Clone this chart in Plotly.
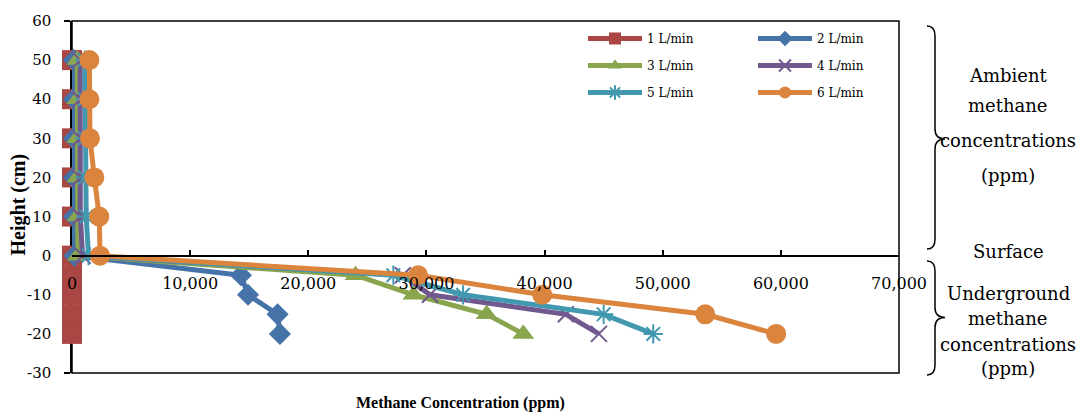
import plotly.graph_objects as go

heights = [50, 40, 30, 20, 10, 0, -5, -10, -15, -20]
series_names = ["1 L/min", "2 L/min", "3 L/min", "4 L/min", "5 L/min", "6 L/min"]
flow_1 = [0, 0, 0, 0, 0, 0, 0, 0, 0, 0]
flow_2 = [150, 150, 150, 150, 150, 200, 14300, 14900, 17400, 17600]
flow_3 = [450, 450, 450, 450, 450, 500, 24000, 28900, 35100, 38200]
flow_4 = [700, 700, 700, 700, 700, 900, 28000, 30300, 41800, 44600]
flow_5 = [1100, 1100, 1100, 1100, 1200, 1400, 27200, 33100, 45000, 49200]
flow_6 = [1470, 1470, 1520, 1890, 2310, 2370, 29300, 39800, 53600, 59600]
y_ticks = [60, 50, 40, 30, 20, 10, 0, -10, -20, -30]
y_tick_labels = ["60", "50", "40", "30", "20", "10", "0", "-10", "-20", "-30"]
x_ticks = [0, 10000, 20000, 30000, 40000, 50000, 60000, 70000]
x_tick_labels = ["0", "10,000", "20,000", "30,000", "40,000", "50,000", "60,000", "70,000"]
ambient_lines = ["Ambient", "methane", "concentrations", "(ppm)"]
under_lines = ["Underground", "methane", "concentrations", "(ppm)"]

W, H = 1080, 414
L, R, T, B = 72, 899, 18, 373

def px_x(px):
    return (px - L) / (R - L)

def px_y(py):
    return (B - py) / (B - T)

styles = [
    dict(color="#AA4643", symbol="square", size=20, legend="legend"),
    dict(color="#4572A7", symbol="diamond", size=17, legend="legend2"),
    dict(color="#89A54E", symbol="triangle-up", size=19, legend="legend"),
    dict(color="#71588F", symbol="x-thin-open", size=16, legend="legend2"),
    dict(color="#4198AF", symbol="asterisk-open", size=16, legend="legend"),
    dict(color="#DB843D", symbol="circle", size=20, legend="legend2"),
]
values = [flow_1, flow_2, flow_3, flow_4, flow_5, flow_6]

fig = go.Figure()
for i, (name, vals, st) in enumerate(zip(series_names, values, styles)):
    open_sym = st["symbol"].endswith("open")
    fig.add_trace(go.Scatter(
        x=vals, y=heights, name=name, mode="lines+markers",
        line=dict(color=st["color"], width=5),
        marker=dict(symbol=st["symbol"], size=st["size"], color=st["color"],
                    line=dict(color=st["color"], width=2 if open_sym else 0)),
        legend=st["legend"], legendgroup=name, cliponaxis=False,
    ))

legend_common = dict(xanchor="left", yanchor="top",
                     font=dict(family="DejaVu Serif", size=12, color="black"),
                     bgcolor="rgba(0,0,0,0)", tracegroupgap=8, itemsizing="constant",
                     itemwidth=54)
fig.update_layout(
    width=W, height=H,
    margin=dict(l=L, r=W - R, t=T, b=H - B, pad=0),
    paper_bgcolor="white", plot_bgcolor="white",
    xaxis=dict(range=[0, 70000], tickvals=x_ticks, ticktext=x_tick_labels,
               anchor="free", position=30 / 90, showline=True, linecolor="black",
               linewidth=1.5, ticks="inside", ticklen=5, tickwidth=1.5, tickcolor="black",
               showgrid=False, zeroline=False, tickfont=dict(family="DejaVu Serif", size=16, color="black"),
               ticklabelstandoff=13, layer="above traces"),
    yaxis=dict(range=[-30, 60], tickvals=y_ticks, ticktext=y_tick_labels,
               showline=True, linecolor="black", linewidth=1.5, ticks="outside",
               ticklen=6, tickwidth=1.5, tickcolor="black", showgrid=False, zeroline=False,
               tickfont=dict(family="DejaVu Serif", size=15, color="black"),
               ticklabelstandoff=10, layer="below traces"),
    legend=dict(x=px_x(583), y=px_y(21), **legend_common),
    legend2=dict(x=px_x(753), y=px_y(21), **legend_common),
    showlegend=True,
)

# plot frame
fig.add_shape(type="rect", xref="paper", yref="paper", x0=0, x1=1, y0=0, y1=1,
              line=dict(color="black", width=1.5), layer="below")

def brace(top, tip, bottom, xl=927, xs=935, xt=945):
    p = (f"M {px_x(xl)},{px_y(top)} Q {px_x(xs)},{px_y(top)} {px_x(xs)},{px_y(top + 10)} "
         f"L {px_x(xs)},{px_y(tip - 10)} Q {px_x(xs)},{px_y(tip)} {px_x(xt)},{px_y(tip)} "
         f"Q {px_x(xs)},{px_y(tip)} {px_x(xs)},{px_y(tip + 10)} "
         f"L {px_x(xs)},{px_y(bottom - 10)} Q {px_x(xs)},{px_y(bottom)} {px_x(xl)},{px_y(bottom)}")
    fig.add_shape(type="path", xref="paper", yref="paper", path=p,
                  line=dict(color="black", width=1.5))

brace(23, 137, 248)
brace(260, 317, 375)

side_font = dict(family="DejaVu Serif", size=18, color="black")
for txt, py in zip(ambient_lines, [73, 103, 139, 174]):
    fig.add_annotation(text=txt, x=px_x(1008), y=px_y(py), xref="paper", yref="paper",
                       showarrow=False, font=side_font, xanchor="center", yanchor="middle")
fig.add_annotation(text="Surface", x=px_x(1008), y=px_y(250), xref="paper", yref="paper",
                   showarrow=False, font=side_font, xanchor="center", yanchor="middle")
for txt, py in zip(under_lines, [293, 318, 344, 368]):
    fig.add_annotation(text=txt, x=px_x(1008), y=px_y(py), xref="paper", yref="paper",
                       showarrow=False, font=side_font, xanchor="center", yanchor="middle")

fig.add_annotation(text="<b>Methane Concentration (ppm)</b>", x=px_x(460), y=px_y(403),
                   xref="paper", yref="paper", showarrow=False,
                   font=dict(family="Liberation Serif", size=16, color="black"),
                   xanchor="center", yanchor="middle")
fig.add_annotation(text="<b>Height (cm)</b>", x=px_x(18), y=px_y(203),
                   xref="paper", yref="paper", showarrow=False, textangle=-90,
                   font=dict(family="Liberation Serif", size=20, color="black"),
                   xanchor="center", yanchor="middle")

fig.write_html("out.html")
